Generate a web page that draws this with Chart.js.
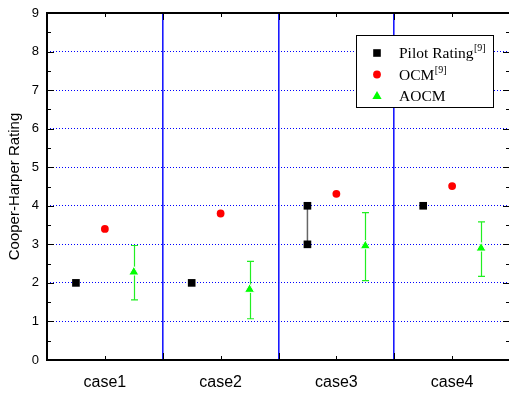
<!DOCTYPE html>
<html>
<head>
<meta charset="utf-8">
<script src="https://cdn.jsdelivr.net/npm/chart.js@4/dist/chart.umd.min.js"></script>
<style>
  html, body { margin: 0; padding: 0; background: #fff; overflow: hidden; }
</style>
</head>
<body>
<canvas id="chart" width="511" height="394"></canvas>
<script>
// values
const categories = ['case1', 'case2', 'case3', 'case4'];
const pilotLow = [2, 2, 3, 4];
const pilotHigh = [2, 2, 4, 4];
const ocm = [3.4, 3.8, 4.31, 4.51];
const aocm = [2.28, 1.83, 2.96, 2.9];
const aocmLow = [1.56, 1.07, 2.06, 2.17];
const aocmHigh = [2.97, 2.56, 3.82, 3.58];
const seriesLabels = ['Pilot Rating', 'OCM', 'AOCM'];
const seriesNotes = ['[9]', '[9]', ''];
const yLabel = 'Cooper-Harper Rating';

const GREEN = '#00ff00';
const RED = '#ff0000';

// where each series sits inside its case band
const OFF_PILOT = 0.25, OFF_OCM = 0.5, OFF_AOCM = 0.75;

const pilotPoints = [];
pilotLow.forEach((v, i) => {
  pilotPoints.push({ x: i + OFF_PILOT, y: v });
  if (pilotHigh[i] !== v) pilotPoints.push({ x: i + OFF_PILOT, y: pilotHigh[i] });
});

// error bars (AOCM) and the pilot range line for case3
const errorBars = {
  id: 'errorBars',
  beforeDatasetsDraw(chart) {
    const { ctx, scales: { x, y } } = chart;
    ctx.save();
    ctx.strokeStyle = '#666';
    ctx.lineWidth = 1.5;
    pilotLow.forEach((lo, i) => {
      if (lo === pilotHigh[i]) return;
      const px = x.getPixelForValue(i + OFF_PILOT);
      ctx.beginPath();
      ctx.moveTo(px, y.getPixelForValue(lo));
      ctx.lineTo(px, y.getPixelForValue(pilotHigh[i]));
      ctx.stroke();
    });
    ctx.strokeStyle = '#22ee22';
    ctx.lineWidth = 1.2;
    aocmLow.forEach((lo, i) => {
      const px = Math.round(x.getPixelForValue(i + OFF_AOCM)) + 0.5;
      const y0 = y.getPixelForValue(lo);
      const y1 = y.getPixelForValue(aocmHigh[i]);
      ctx.beginPath();
      ctx.moveTo(px, y0); ctx.lineTo(px, y1);
      ctx.moveTo(px - 3.5, y0); ctx.lineTo(px + 3.5, y0);
      ctx.moveTo(px - 3.5, y1); ctx.lineTo(px + 3.5, y1);
      ctx.stroke();
    });
    ctx.restore();
  }
};

// box frame with inward ticks on all four sides
const frame = {
  id: 'frame',
  afterDatasetsDraw(chart) {
    const { ctx, chartArea: a, scales: { x, y } } = chart;
    ctx.save();
    ctx.strokeStyle = '#000';
    ctx.lineWidth = 1;
    const seg = (x0, y0, x1, y1) => { ctx.beginPath(); ctx.moveTo(x0, y0); ctx.lineTo(x1, y1); ctx.stroke(); };
    for (let v = 0; v <= 4; v += 0.5) {
      const px = Math.round(x.getPixelForValue(v)) + 0.5;
      const len = v % 1 === 0 ? 7 : 4;
      seg(px, a.bottom, px, a.bottom - len);
      seg(px, a.top, px, a.top + len);
    }
    for (let v = 0; v <= 9; v += 0.5) {
      const py = Math.round(y.getPixelForValue(v)) + 0.5;
      const len = v % 1 === 0 ? 7 : 4;
      seg(a.left, py, a.left + len, py);
      seg(a.right, py, a.right - len, py);
    }
    ctx.lineWidth = 2;
    ctx.strokeRect(a.left, a.top, a.right - a.left, a.bottom - a.top);
    ctx.restore();
  }
};

// legend with superscript references
const legendBox = {
  id: 'legendBox',
  afterDraw(chart) {
    const { ctx, chartArea: a } = chart;
    const left = a.right - 154, top = a.top + 22, w = 137, h = 72;
    ctx.save();
    ctx.fillStyle = '#fff';
    ctx.fillRect(left, top, w, h);
    ctx.strokeStyle = '#000';
    ctx.lineWidth = 1;
    ctx.strokeRect(left + 0.5, top + 0.5, w, h);
    const colors = ['#000', RED, GREEN];
    seriesLabels.forEach((lab, i) => {
      const cy = top + 18 + i * 21.5;
      const mx = left + 21;
      ctx.fillStyle = colors[i];
      ctx.beginPath();
      if (i === 0) ctx.rect(mx - 3.8, cy - 3.8, 7.6, 7.6);
      else if (i === 1) ctx.arc(mx, cy, 3.9, 0, Math.PI * 2);
      else { ctx.moveTo(mx, cy - 5); ctx.lineTo(mx + 4.6, cy + 3); ctx.lineTo(mx - 4.6, cy + 3); ctx.closePath(); }
      ctx.fill();
      ctx.fillStyle = '#000';
      ctx.font = '15.5px "Liberation Serif", serif';
      ctx.textBaseline = 'alphabetic';
      const tx = left + 43;
      ctx.fillText(lab, tx, cy + 5);
      if (seriesNotes[i]) {
        const tw = ctx.measureText(lab).width;
        ctx.font = '10px "Liberation Serif", serif';
        ctx.fillText(seriesNotes[i], tx + tw + 0.5, cy - 2);
      }
    });
    ctx.restore();
  }
};

new Chart(document.getElementById('chart'), {
  type: 'scatter',
  data: {
    datasets: [
      {
        label: seriesLabels[0],
        data: pilotPoints,
        pointStyle: 'rect',
        pointRadius: 5.4,
        backgroundColor: '#000',
        borderWidth: 0
      },
      {
        label: seriesLabels[1],
        data: ocm.map((v, i) => ({ x: i + OFF_OCM, y: v })),
        pointStyle: 'circle',
        pointRadius: 3.9,
        backgroundColor: RED,
        borderWidth: 0
      },
      {
        label: seriesLabels[2],
        data: aocm.map((v, i) => ({ x: i + OFF_AOCM, y: v })),
        pointStyle: 'triangle',
        pointRadius: 5.8,
        backgroundColor: GREEN,
        borderColor: '#fff',
        borderWidth: 1
      }
    ]
  },
  options: {
    responsive: false,
    animation: false,
    devicePixelRatio: 1,
    layout: { autoPadding: false, padding: { left: 0, right: 1, top: 13, bottom: 0 } },
    plugins: {
      legend: { display: false },
      tooltip: { enabled: false }
    },
    scales: {
      x: {
        type: 'linear',
        min: 0,
        max: 4,
        afterFit: (s) => { s.height = 34; s.paddingLeft = 0; s.paddingRight = 0; },
        border: { display: false },
        grid: {
          drawTicks: false,
          lineWidth: 1.6,
          color: (c) => {
            const v = c.tick ? c.tick.value : 0;
            return Number.isInteger(v) && v > 0 && v < 4 ? '#1a1aff' : 'rgba(0,0,0,0)';
          }
        },
        ticks: {
          stepSize: 0.5,
          autoSkip: false,
          maxRotation: 0,
          padding: 13,
          color: '#000',
          font: { family: '"Liberation Sans", Arial, sans-serif', size: 16 },
          callback: (v) => (v % 1 === 0.5 ? categories[Math.floor(v)] : '')
        }
      },
      y: {
        min: 0,
        max: 9,
        afterFit: (s) => { s.width = 47; s.paddingTop = 0; s.paddingBottom = 0; },
        border: { display: false, dash: [1, 2] },
        grid: {
          drawTicks: false,
          lineWidth: 1,
          color: (c) => {
            const v = c.tick ? c.tick.value : 0;
            return v > 0 && v < 9 ? '#0000ff' : 'rgba(0,0,0,0)';
          }
        },
        ticks: {
          stepSize: 1,
          padding: 8,
          color: '#000',
          font: { family: '"Liberation Sans", Arial, sans-serif', size: 13 }
        },
        title: {
          display: true,
          text: yLabel,
          color: '#000',
          padding: { top: 6, bottom: 0 },
          font: { family: '"Liberation Sans", Arial, sans-serif', size: 15 }
        }
      }
    }
  },
  plugins: [errorBars, frame, legendBox]
});
</script>
</body>
</html>
